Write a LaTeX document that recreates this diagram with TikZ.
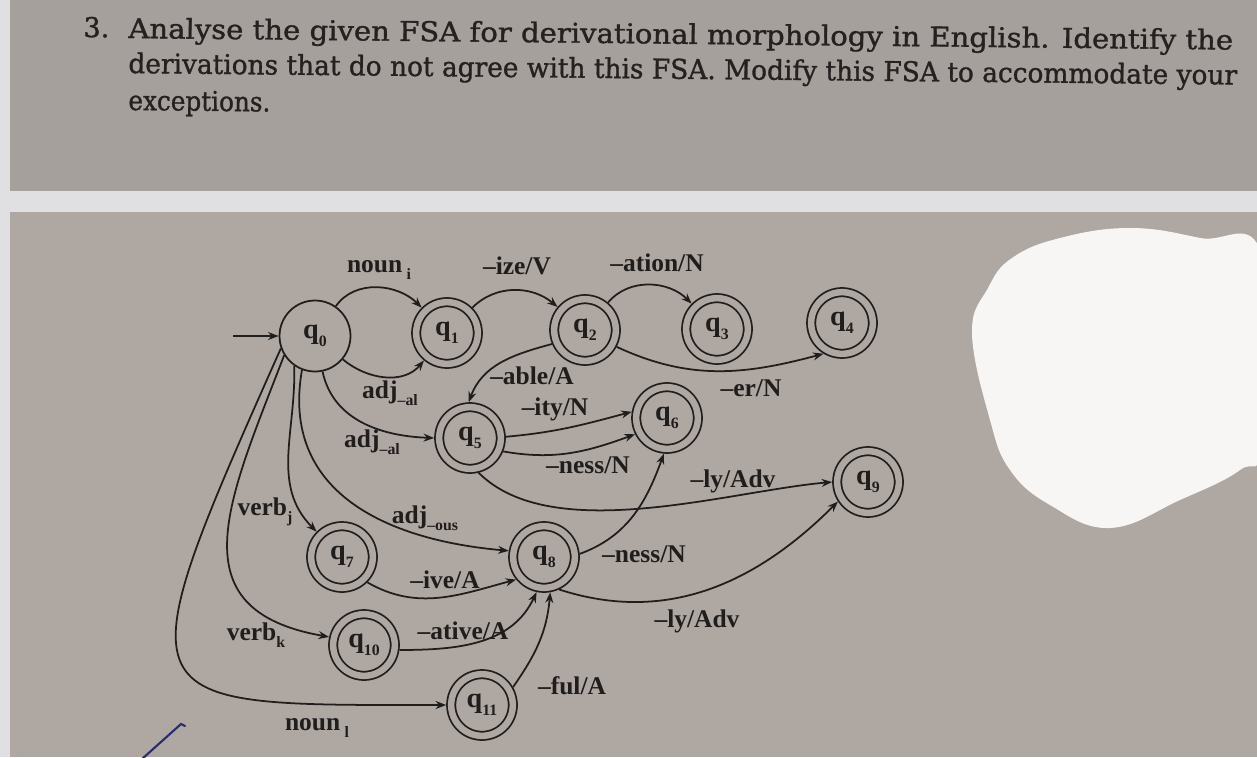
\documentclass[tikz,border=0pt]{standalone}
\usepackage{graphicx}
\usepackage{fontspec}
\setmainfont{Liberation Serif}
\newfontfamily\askfont{DejaVu Serif}[FakeBold=1.2]
\usetikzlibrary{arrows.meta}

\definecolor{paper}{RGB}{174,167,162}
\definecolor{paperdark}{RGB}{166,160,156}
\definecolor{gapgrey}{RGB}{224,224,226}
\definecolor{ink}{RGB}{32,29,29}
\definecolor{asktext}{RGB}{38,33,33}
\definecolor{pen}{RGB}{42,44,112}

\newcommand{\lowsub}[1]{\raisebox{-0.6ex}{\fontsize{9}{9}\selectfont #1}}

\tikzstyle{state}=[circle,draw=ink,line width=1pt,minimum size=1.42cm,inner sep=0pt,text=ink,font=\fontsize{16}{16}\selectfont\bfseries]
\tikzstyle{accepting state}=[state,double=paper,double distance=0.13cm,minimum size=1.234cm,outer sep=0.1cm]
\tikzstyle{edge}=[draw=ink,line width=1pt,-{Stealth[length=6pt,width=4.5pt]}]
\tikzstyle{suffix}=[anchor=base,inner sep=0pt,text=ink,font=\fontsize{14.5}{14.5}\selectfont\bfseries]
\tikzstyle{askline}=[anchor=base west,inner sep=0pt,rotate=-0.6,text=asktext,font=\askfont\fontsize{15.5}{18}\selectfont]

\begin{document}
\begin{tikzpicture}[x=0.02cm,y=0.02cm]
     \useasboundingbox (0,0) rectangle (1257,-757);
     % the two sheets of paper
     \fill[gapgrey] (0,0) rectangle (1257,-757);
     \fill[paperdark] (10,0) rectangle (1257,-191);
     \fill[paper] (10,-212) rectangle (1257,-757);
     \begin{scope}
       \clip (0,0) rectangle (1257,-757);
       \fill[white,opacity=0.9] plot[smooth cycle,tension=0.7] coordinates {(972,-333) (988,-288) (1012,-258) (1060,-238) (1130,-228) (1200,-238) (1262,-255) (1262,-440) (1240,-470) (1180,-500) (1110,-528) (1050,-505) (1010,-470) (990,-420)};
     \end{scope}
     \draw[pen,line width=1.2pt,line cap=round] (142,-759) -- (181,-724) -- (185,-726);

     % The question
     \node[askline] (num) at (83,-37) {3.};
     \node[askline] (line1) at (128,-38) {\resizebox{22.1cm}{\height}{Analyse the given FSA for derivational morphology in English. Identify the}};
     \node[askline] (line2) at (128,-73) {\resizebox{22.18cm}{\height}{derivations that do not agree with this FSA. Modify this FSA to accommodate your}};
     \node[askline] (line3) at (128,-110) {\resizebox{2.84cm}{\height}{exceptions.}};

     % First we draw the states
     \foreach \pos/\name/\num in {{(315,-336)/q0/0}}
     \node[state] (\name) at \pos {q\lowsub{\num}};

     \foreach \pos/\name/\num in {{(447,-333)/q1/1}, {(585,-330)/q2/2},
       {(717,-329)/q3/3}, {(842,-323)/q4/4}, {(470,-438)/q5/5},
       {(667,-418)/q6/6}, {(342,-557)/q7/7}, {(544,-557)/q8/8},
       {(868,-482)/q9/9}, {(364,-645)/q10/10}, {(482,-705)/q11/11}}
     \node[accepting state] (\name) at \pos {q\lowsub{\num}};

     \coordinate (start) at (233,-336);
     \path[edge] (start) -- (q0);

     % Connect states with transitions
     \foreach \source/\sa/\outang/\inang/\dest/\da/\loose in {
       q0/55/55/135/q1/135/1, q0/320/-40/-130/q1/230/1,
       q1/45/45/140/q2/140/1, q2/50/50/135/q3/135/1,
       q2/332/-25/195/q4/239/1, q2/203/195/70/q5/92/1,
       q0/282/-78/178/q5/180/1, q5/2/5/195/q6/170/1,
       q5/338/-10/200/q6/207/1, q5/284/-45/185/q9/180/0.75,
       q0/235/-88/135/q7/135/1, q0/212/-111/170/q10/167/1.4,
       q0/249/-100/175/q8/170/1.15, q7/315/-30/195/q8/219/1,
       q10/352/0/-115/q8/258/1, q11/30/55/-95/q8/280/1,
       q8/5/20/-110/q6/265/1, q8/295/-18/-135/q9/213/1}
     \path[edge] (\source.\sa) to[out=\outang,in=\inang,looseness=\loose] (\dest.\da);
     \path[edge] (q0.200) to[out=-114,in=180,out looseness=2.6,in looseness=2.1] (q11.west);

     % and the suffixes on them
     \foreach \pos/\txt [count=\i] in {{(379,-272)/{noun\,\lowsub{i}}},
       {(517,-274)/{--ize/V}}, {(657,-271)/{--ation/N}},
       {(390,-398)/{adj\lowsub{--al}}}, {(372,-447)/{adj\lowsub{--al}}},
       {(532,-384)/{--able/A}}, {(555,-415)/{--ity/N}},
       {(588,-473)/{--ness/N}}, {(751,-396)/{--er/N}},
       {(733,-487)/{--ly/Adv}}, {(265,-515)/{verb\lowsub{j}}},
       {(425,-523)/{adj\lowsub{--ous}}}, {(445,-588)/{--ive/A}},
       {(256,-640)/{verb\lowsub{k}}}, {(463,-639)/{--ative/A}},
       {(572,-694)/{--ful/A}}, {(317,-730)/{noun\,\lowsub{l}}},
       {(644,-562)/{--ness/N}}, {(697,-627)/{--ly/Adv}}}
     \node[suffix] (s\i) at \pos {\txt};
\end{tikzpicture}
\end{document}
